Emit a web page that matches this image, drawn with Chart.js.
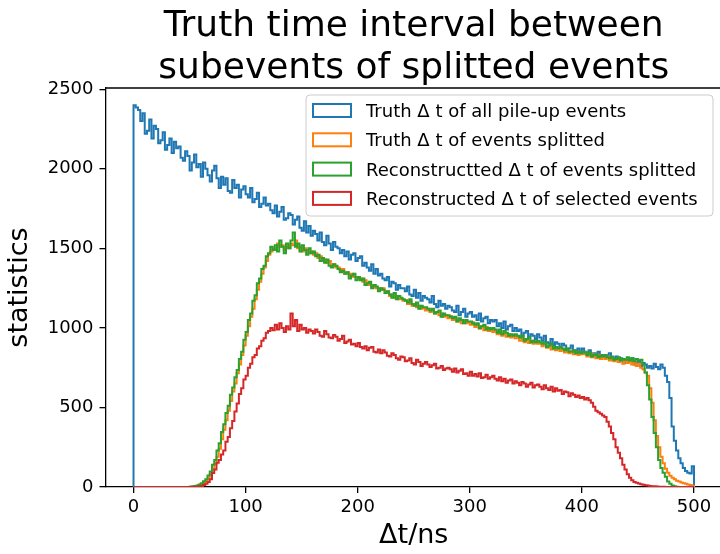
<!DOCTYPE html>
<html>
<head>
<meta charset="utf-8">
<script src="https://cdn.jsdelivr.net/npm/chart.js@4.4.0/dist/chart.umd.min.js"></script>
<style>
html, body { margin: 0; padding: 0; background: #fff; overflow: hidden; }
#wrap { width: 740px; height: 554px; }
</style>
</head>
<body>
<div id="wrap"><canvas id="c" width="740" height="554"></canvas></div>
<script>
// histogram bins: 2 ns wide, 0..500 ns
const binWidth = 2;

const titleLines = ['Truth time interval between', 'subevents of splitted events'];
const seriesLabels = [
  'Truth \u0394 t of all pile-up events',
  'Truth \u0394 t of events splitted',
  'Reconstructted \u0394 t of events splitted',
  'Reconstructed \u0394 t of selected events'
];
const seriesColors = ['#1f77b4', '#ff7f0e', '#2ca02c', '#d62728'];
const xTicks = [0, 100, 200, 300, 400, 500];
const yTicks = [0, 500, 1000, 1500, 2000, 2500];

// one row = 10 bins = 20 ns
const blueCounts = [
  2400, 2385, 2370, 2300, 2350, 2220, 2240, 2310, 2190, 2270,
  2250, 2160, 2180, 2230, 2120, 2150, 2190, 2100, 2170, 2130,
  2140, 2070, 2050, 2110, 2080, 1990, 2040, 2090, 2010, 2030,
  1950, 2040, 2000, 1960, 1920, 1990, 2020, 1940, 1880, 1950,
  1900, 1940, 1860, 1850, 1930, 1880, 1900, 1820, 1870, 1890,
  1840, 1820, 1880, 1790, 1810, 1850, 1760, 1780, 1820, 1770,
  1780, 1740, 1720, 1770, 1700, 1730, 1760, 1680, 1690, 1720,
  1710, 1650, 1680, 1700, 1630, 1610, 1670, 1600, 1640, 1580,
  1610, 1590, 1550, 1600, 1540, 1520, 1580, 1530, 1490, 1540,
  1510, 1500, 1470, 1490, 1450, 1480, 1430, 1460, 1470, 1420,
  1440, 1450, 1390, 1410, 1380, 1360, 1400, 1340, 1370, 1330,
  1340, 1310, 1300, 1320, 1260, 1290, 1280, 1240, 1270, 1250,
  1250, 1230, 1260, 1210, 1200, 1240, 1190, 1220, 1170, 1200,
  1190, 1180, 1160, 1200, 1150, 1130, 1170, 1140, 1150, 1120,
  1140, 1130, 1110, 1100, 1140, 1080, 1100, 1120, 1070, 1090,
  1100, 1070, 1080, 1050, 1090, 1040, 1060, 1070, 1030, 1050,
  1040, 1050, 1010, 1030, 1000, 1040, 990, 1010, 1020, 980,
  1000, 980, 990, 950, 970, 980, 940, 960, 950, 930,
  960, 940, 920, 950, 910, 900, 930, 890, 910, 900,
  880, 900, 890, 860, 870, 890, 850, 860, 870, 840,
  870, 850, 840, 860, 830, 840, 820, 850, 830, 820,
  830, 820, 840, 800, 810, 820, 790, 810, 800, 780,
  800, 790, 810, 770, 780, 790, 760, 780, 770, 750,
  760, 745, 775, 755, 740, 770, 750, 700, 660, 560,
  380, 290, 230, 180, 150, 120, 100, 90, 85, 130
];
const orangeCounts = [
  0, 0, 0, 0, 0, 0, 0, 0, 0, 0,
  0, 0, 0, 0, 0, 0, 0, 0, 0, 0,
  0, 0, 0, 0, 0, 1, 2, 4, 7, 11,
  17, 26, 38, 55, 80, 110, 145, 190, 240, 300,
  360, 420, 480, 540, 600, 650, 715, 770, 830, 890,
  950, 1010, 1070, 1120, 1180, 1240, 1290, 1340, 1380, 1420,
  1460, 1480, 1500, 1490, 1530, 1510, 1520, 1490, 1510, 1500,
  1530, 1520, 1550, 1500, 1510, 1480, 1500, 1490, 1470, 1480,
  1460, 1470, 1440, 1450, 1420, 1430, 1410, 1420, 1390, 1400,
  1380, 1380, 1360, 1370, 1340, 1350, 1330, 1340, 1320, 1320,
  1310, 1310, 1290, 1300, 1270, 1280, 1260, 1270, 1250, 1250,
  1240, 1250, 1220, 1230, 1200, 1210, 1190, 1200, 1180, 1180,
  1170, 1175, 1150, 1170, 1140, 1150, 1130, 1140, 1120, 1125,
  1110, 1120, 1100, 1110, 1090, 1100, 1080, 1090, 1070, 1080,
  1060, 1075, 1050, 1060, 1040, 1055, 1030, 1045, 1030, 1035,
  1020, 1035, 1005, 1020, 995, 1010, 985, 1005, 980, 995,
  975, 985, 960, 975, 950, 965, 945, 960, 940, 955,
  935, 945, 920, 935, 910, 925, 905, 920, 900, 910,
  900, 910, 885, 895, 875, 885, 865, 880, 860, 870,
  855, 865, 845, 860, 840, 855, 835, 850, 830, 845,
  835, 845, 820, 840, 815, 835, 810, 830, 805, 825,
  805, 820, 795, 810, 790, 805, 785, 800, 775, 790,
  780, 795, 770, 785, 760, 775, 750, 740, 720, 700,
  620, 530, 420, 320, 250, 190, 150, 115, 90, 70,
  58, 48, 40, 34, 28, 24, 20, 16, 12, 8
];
const greenCounts = [
  0, 0, 0, 0, 0, 0, 0, 0, 0, 0,
  0, 0, 0, 0, 0, 0, 0, 0, 0, 0,
  0, 0, 0, 0, 0, 2, 4, 6, 10, 15,
  24, 36, 48, 72, 98, 140, 170, 230, 275, 345,
  395, 465, 510, 580, 625, 690, 735, 805, 850, 925,
  975, 1050, 1090, 1170, 1205, 1280, 1310, 1370, 1390, 1450,
  1470, 1510, 1490, 1520, 1480, 1550, 1510, 1470, 1530, 1500,
  1550, 1600, 1510, 1530, 1480, 1520, 1490, 1460, 1500, 1470,
  1480, 1450, 1460, 1420, 1440, 1410, 1430, 1390, 1380, 1400,
  1390, 1370, 1350, 1360, 1340, 1350, 1310, 1330, 1340, 1300,
  1320, 1300, 1310, 1270, 1280, 1290, 1250, 1270, 1260, 1230,
  1250, 1240, 1220, 1230, 1210, 1190, 1220, 1180, 1200, 1190,
  1180, 1170, 1160, 1180, 1150, 1140, 1160, 1120, 1140, 1130,
  1130, 1120, 1110, 1120, 1090, 1100, 1110, 1070, 1090, 1080,
  1080, 1070, 1060, 1070, 1040, 1060, 1050, 1030, 1050, 1040,
  1040, 1030, 1020, 1030, 1000, 1010, 1020, 990, 1000, 990,
  1000, 990, 970, 990, 960, 980, 970, 950, 960, 950,
  960, 950, 940, 950, 920, 930, 940, 910, 920, 910,
  920, 910, 900, 910, 880, 890, 900, 870, 880, 870,
  880, 870, 860, 870, 850, 850, 860, 840, 850, 840,
  850, 845, 830, 845, 820, 830, 835, 815, 825, 820,
  830, 815, 810, 820, 800, 805, 815, 795, 805, 800,
  815, 795, 810, 790, 805, 795, 800, 770, 720, 640,
  550, 440, 340, 250, 170, 120, 90, 65, 35, 20,
  10, 5, 2, 0, 0, 0, 0, 0, 0, 0
];
const redCounts = [
  0, 0, 0, 0, 0, 0, 0, 0, 0, 0,
  0, 0, 0, 0, 0, 0, 0, 0, 0, 0,
  0, 0, 0, 0, 0, 0, 0, 1, 2, 4,
  6, 12, 20, 32, 48, 88, 110, 152, 170, 205,
  230, 285, 315, 370, 415, 475, 525, 585, 620, 675,
  700, 750, 775, 815, 830, 870, 885, 920, 935, 970,
  980, 1000, 985, 1020, 990, 1030, 1000, 975, 1010, 990,
  1090, 1010, 1050, 980, 1020, 990, 1000, 970, 990, 980,
  965, 990, 975, 950, 945, 980, 960, 940, 935, 955,
  945, 920, 930, 950, 905, 915, 925, 895, 900, 885,
  905, 880, 870, 885, 860, 875, 880, 850, 845, 865,
  840, 860, 845, 825, 820, 840, 830, 810, 800, 820,
  815, 790, 795, 810, 780, 770, 800, 785, 760, 775,
  785, 770, 755, 765, 775, 745, 750, 760, 735, 745,
  750, 740, 725, 745, 720, 730, 740, 710, 715, 700,
  725, 700, 710, 695, 715, 685, 690, 705, 680, 690,
  700, 680, 670, 690, 665, 680, 655, 670, 675, 650,
  665, 655, 640, 660, 650, 630, 645, 655, 625, 640,
  645, 630, 615, 640, 620, 610, 630, 600, 620, 605,
  610, 585, 600, 595, 570, 590, 580, 565, 575, 560,
  565, 550, 560, 545, 530, 505, 480, 470, 460, 450,
  440, 410, 380, 340, 300, 250, 215, 180, 140, 110,
  80, 58, 42, 32, 26, 22, 18, 14, 11, 9,
  7, 5, 4, 3, 2, 1, 1, 0, 0, 0,
  0, 0, 0, 0, 0, 0, 0, 0, 0, 0
];
const allCounts = [blueCounts, orangeCounts, greenCounts, redCounts];

const FONT = '"DejaVu Sans", sans-serif';

// outline of a step histogram: rise at the first edge, drop at the last one
function stepPoints(counts) {
  const pts = [{x: 0, y: 0}];
  for (let i = 0; i < counts.length; i++) {
    pts.push({x: i * binWidth, y: counts[i]});
  }
  pts.push({x: counts.length * binWidth, y: 0});
  return pts;
}

const decorPlugin = {
  id: 'decor',
  afterDraw(chart) {
    const ctx = chart.ctx;
    const a = chart.chartArea;
    ctx.save();
    // top + right spines
    ctx.strokeStyle = '#000';
    ctx.lineWidth = 1.3;
    ctx.beginPath();
    ctx.moveTo(a.left, a.top);
    ctx.lineTo(a.right, a.top);
    ctx.lineTo(a.right, a.bottom);
    ctx.stroke();

    // title
    ctx.fillStyle = '#000';
    ctx.font = '36px ' + FONT;
    ctx.textAlign = 'center';
    ctx.textBaseline = 'alphabetic';
    const cx = (a.left + a.right) / 2;
    titleLines.forEach((t, i) => ctx.fillText(t, cx, 36 + i * 42));

    // legend, upper right inside the axes
    const lw = 407, lh = 121;
    const lx = a.right - 9 - lw, ly = a.top + 7;
    ctx.beginPath();
    ctx.roundRect(lx, ly, lw, lh, 4);
    ctx.fillStyle = 'rgba(255,255,255,0.8)';
    ctx.fill();
    ctx.strokeStyle = '#cccccc';
    ctx.lineWidth = 1;
    ctx.stroke();
    ctx.font = '18px ' + FONT;
    ctx.textAlign = 'left';
    chart.data.datasets.forEach((ds, i) => {
      const cy = ly + 15.5 + i * 29.3;
      ctx.strokeStyle = ds.borderColor;
      ctx.lineWidth = 2;
      ctx.strokeRect(lx + 7, cy - 6.5, 38, 13);
      ctx.fillStyle = '#000';
      ctx.fillText(ds.label, lx + 60, cy + 6.5);
    });
    ctx.restore();
  }
};

const ctx = document.getElementById('c');
new Chart(ctx, {
  type: 'line',
  data: {
    datasets: allCounts.map((counts, i) => ({
      label: seriesLabels[i],
      data: stepPoints(counts),
      borderColor: seriesColors[i],
      backgroundColor: seriesColors[i],
      borderWidth: 2,
      pointRadius: 0,
      fill: false,
      stepped: true,
      tension: 0,
      order: allCounts.length - i
    }))
  },
  options: {
    responsive: false,
    animation: false,
    devicePixelRatio: 1,
    layout: {
      padding: {left: 0, right: 18, top: 88, bottom: 0}
    },
    plugins: {
      legend: {display: false},
      title: {display: false},
      tooltip: {enabled: false}
    },
    scales: {
      x: {
        type: 'linear',
        min: -25,
        max: 525,
        afterBuildTicks: s => { s.ticks = xTicks.map(v => ({value: v})); },
        afterFit: s => { s.height = 67; },
        ticks: {
          color: '#000',
          font: {family: FONT, size: 18},
          padding: 4,
          maxRotation: 0,
          callback: v => String(v)
        },
        grid: {drawOnChartArea: false, drawTicks: true, tickLength: 6, color: '#000', lineWidth: 1.3},
        border: {display: true, color: '#000', width: 1.3},
        title: {
          display: true,
          text: '\u0394t/ns',
          color: '#000',
          font: {family: FONT, size: 27},
          padding: {top: 0, bottom: 2}
        }
      },
      y: {
        type: 'linear',
        min: 0,
        max: 2508,
        afterBuildTicks: s => { s.ticks = yTicks.map(v => ({value: v})); },
        afterFit: s => { s.width = 105.5; },
        ticks: {
          color: '#000',
          font: {family: FONT, size: 18},
          padding: 6,
          callback: v => String(v)
        },
        grid: {drawOnChartArea: false, drawTicks: true, tickLength: 6, color: '#000', lineWidth: 1.3},
        border: {display: true, color: '#000', width: 1.3},
        title: {
          display: true,
          text: 'statistics',
          color: '#000',
          font: {family: FONT, size: 27},
          padding: {top: 4, bottom: 0}
        }
      }
    }
  },
  plugins: [decorPlugin]
});
</script>
</body>
</html>
